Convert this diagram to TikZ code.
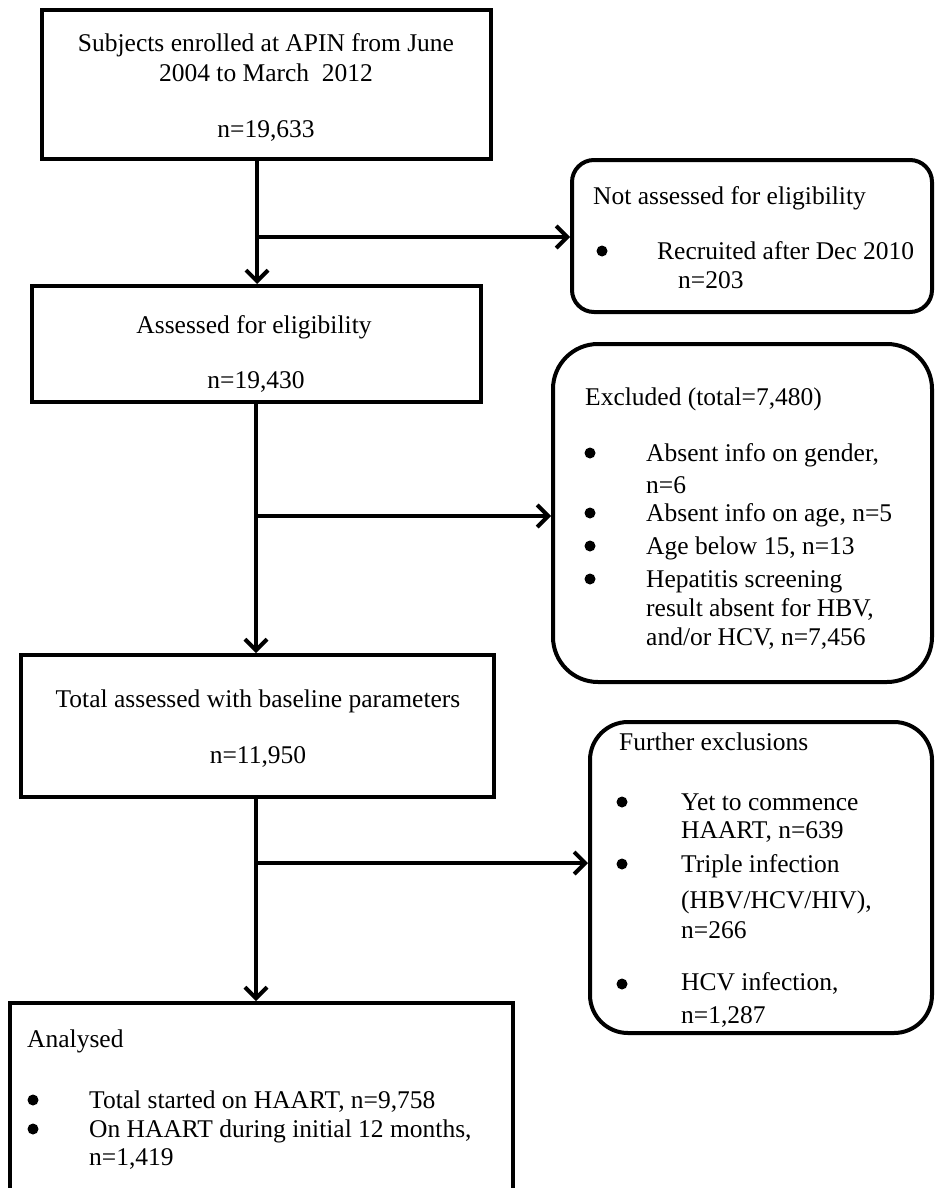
\documentclass[tikz,border=0pt]{standalone}
\usepackage{fontspec}
\setmainfont{Liberation Serif}
\usetikzlibrary{arrows.meta}
\newcommand{\fs}{\fontsize{25.5}{29}\selectfont}
\tikzset{
  box/.style={draw, line width=4pt, inner sep=0pt, rectangle},
  txt/.style={anchor=base west, inner sep=0pt, font=\fs},
  ctxt/.style={anchor=base, inner sep=0pt, font=\fs},
  bul/.style={circle, fill, inner sep=0pt, minimum size=11pt},
  link/.style={line width=4pt},
  arr/.style={line width=4pt, -{Straight Barb[length=11pt,width=22pt]}}
}
\begin{document}
\begin{tikzpicture}[x=1pt,y=-1pt]
\useasboundingbox (0,0) rectangle (934,1188);
\clip (0,0) rectangle (934,1188);
% boxes
\node[box, minimum width=449pt, minimum height=149pt] (b1) at (266.5,84.5) {};
\node[box, minimum width=449pt, minimum height=116pt] (b2) at (256.5,344) {};
\node[box, minimum width=473pt, minimum height=142pt] (b3) at (257.5,726) {};
\node[box, minimum width=503pt, minimum height=197pt] (b4) at (261.5,1101.5) {};
\node[box, rounded corners=22pt, minimum width=360pt, minimum height=152pt] (na) at (752,236) {};
\node[box, rounded corners=45pt, minimum width=379pt, minimum height=338pt] (ex) at (742.5,513) {};
\node[box, rounded corners=38pt, minimum width=342pt, minimum height=311pt] (fu) at (761,877.5) {};
% junctions
\coordinate (j1) at (257,237);
\coordinate (j2) at (256,516);
\coordinate (j3) at (256,863);
% connectors
\draw[arr] (b1.south -| j1) -- (b2.north -| j1);
\draw[arr] (j1) -- (na.west |- j1);
\draw[arr] (b2.south -| j2) -- (b3.north -| j2);
\draw[arr] (j2) -- (ex.west |- j2);
\draw[arr] (b3.south -| j3) -- (b4.north -| j3);
\draw[arr] (j3) -- (fu.west |- j3);
% box 1
\node[ctxt] (t1a) at (266,52) {Subjects enrolled at APIN from June};
\node[ctxt] (t1b) at (266,82) {2004 to March~ 2012};
\node[ctxt] (t1c) at (266,137) {n=19,633};
% box 2
\node[ctxt] (t2a) at (254,333) {Assessed for eligibility};
\node[ctxt] (t2b) at (256,388) {n=19,430};
% box 3
\node[ctxt] (t3a) at (258,707) {Total assessed with baseline parameters};
\node[ctxt] (t3b) at (258,763) {n=11,950};
% not assessed
\node[txt] (na1) at (593,204) {Not assessed for eligibility};
\node[bul] (nab) at (602,251) {};
\node[txt] (na2) at (657,259) {Recruited after Dec 2010};
\node[txt] (na3) at (678,288) {n=203};
% excluded
\node[txt] (ex0) at (585,405) {Excluded (total=7,480)};
\node[bul] (exb1) at (590,453) {};
\node[bul] (exb2) at (590,513) {};
\node[bul] (exb3) at (590,546) {};
\node[bul] (exb4) at (590,579) {};
\node[txt] (ex1) at (646,461) {Absent info on gender,};
\node[txt] (ex2) at (646,493) {n=6};
\node[txt] (ex3) at (646,521) {Absent info on age, n=5};
\node[txt] (ex4) at (646,554) {Age below 15, n=13};
\node[txt] (ex5) at (646,587) {Hepatitis screening};
\node[txt] (ex6) at (646,616) {result absent for HBV,};
\node[txt] (ex7) at (646,645) {and/or HCV, n=7,456};
% further
\node[txt] (fu0) at (619,750) {Further exclusions};
\node[bul] (fub1) at (622,802) {};
\node[bul] (fub2) at (622,864) {};
\node[bul] (fub3) at (622,984) {};
\node[txt] (fu1) at (681,810) {Yet to commence};
\node[txt] (fu2) at (681,838) {HAART, n=639};
\node[txt] (fu3) at (681,872) {Triple infection};
\node[txt] (fu4) at (681,908) {(HBV/HCV/HIV),};
\node[txt] (fu5) at (681,938) {n=266};
\node[txt] (fu6) at (681,990) {HCV infection,};
\node[txt] (fu7) at (681,1023) {n=1,287};
% analysed
\node[txt] (an0) at (27,1047) {Analysed};
\node[bul] (anb1) at (33,1100) {};
\node[bul] (anb2) at (33,1129) {};
\node[txt] (an1) at (89,1108) {Total started on HAART, n=9,758};
\node[txt] (an2) at (89,1137) {On HAART during initial 12 months,};
\node[txt] (an3) at (89,1165) {n=1,419};
\end{tikzpicture}
\end{document}
